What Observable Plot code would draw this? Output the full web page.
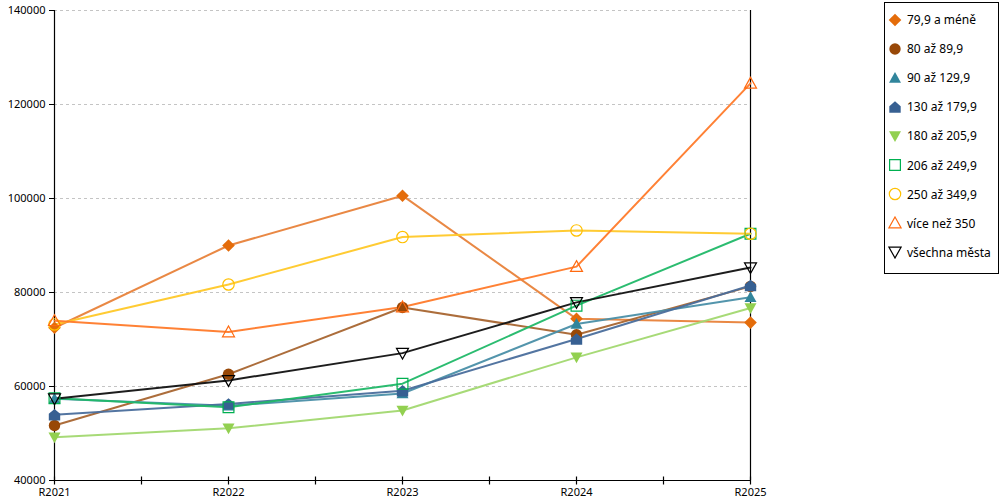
<!DOCTYPE html>
<html>
<head>
<meta charset="utf-8">
<script src="https://cdn.jsdelivr.net/npm/d3@7"></script>
<script src="https://cdn.jsdelivr.net/npm/@observablehq/plot@0.6"></script>
<style>
  body { margin: 0; background: #fff; font-family: "Noto Sans", sans-serif; }
  #wrap { position: relative; width: 1000px; height: 500px; }
  #legend { position: absolute; left: 884px; top: 2px; width: 110px; height: 268px;
    border: 1px solid #000; box-sizing: content-box; padding-top: 2px; padding-left: 3px; }
  .item { height: 29.1px; display: flex; align-items: center; font-size: 12px; color: #000; white-space: nowrap; }
  .item svg { margin-right: 5px; flex: none; }
</style>
</head>
<body>
<div id="wrap">
  <div id="chart"></div>
  <div id="legend"></div>
</div>
<script>
const categories = ["R2021", "R2022", "R2023", "R2024", "R2025"];
const seriesNames = ["79,9 a méně", "80 až 89,9", "90 až 129,9", "130 až 179,9", "180 až 205,9", "206 až 249,9", "250 až 349,9", "více než 350", "všechna města"];
const s79 = [72500, 90000, 100600, 74400, 73600];
const s80 = [51700, 62600, 76800, 71000, 81300];
const s90 = [57400, 55900, 58500, 73300, 79000];
const s130 = [54000, 56300, 59100, 70100, 81500];
const s180 = [49200, 51100, 54900, 66200, 76700];
const s206 = [57500, 55600, 60600, 77200, 92500];
const s250 = [73200, 81700, 91800, 93200, 92500];
const s350 = [74000, 71600, 76900, 85500, 124500];
const sAll = [57400, 61300, 67100, 77900, 85300];
const seriesValues = [s79, s80, s90, s130, s180, s206, s250, s350, sAll];
const yTicks = [40000, 60000, 80000, 100000, 120000, 140000];

const colors = ["#E46C0A", "#984807", "#31859C", "#376092", "#92D050", "#00B050", "#FFC000", "#FF6A10", "#000000"];
const lineColors = ["#E8823A", "#A86530", "#4A8FA8", "#4A6E9C", "#A2D870", "#20B868", "#FFC828", "#FF7A2A", "#111111"];
const filled = [true, true, true, true, true, false, false, false, false];

// custom symbols (size = r^2 * pi)
const R = s => Math.sqrt(s / Math.PI);
const symDiamond = {draw(c, s){ const r = R(s)*1.05; c.moveTo(0,-r); c.lineTo(r,0); c.lineTo(0,r); c.lineTo(-r,0); c.closePath(); }};
const symCircle = {draw(c, s){ const r = R(s)*0.95; c.moveTo(r,0); c.arc(0,0,r,0,2*Math.PI); c.closePath(); }};
const symTriUp = {draw(c, s){ const r = R(s); c.moveTo(0,-r); c.lineTo(r,r*0.8); c.lineTo(-r,r*0.8); c.closePath(); }};
const symHouse = {draw(c, s){ const r = R(s)*0.95; c.moveTo(0,-r); c.lineTo(r,-r*0.15); c.lineTo(r,r); c.lineTo(-r,r); c.lineTo(-r,-r*0.15); c.closePath(); }};
const symTriDown = {draw(c, s){ const r = R(s); c.moveTo(-r,-r*0.8); c.lineTo(r,-r*0.8); c.lineTo(0,r); c.closePath(); }};
const symSquare = {draw(c, s){ const r = R(s)*0.9; c.rect(-r,-r,2*r,2*r); }};
const symbols = [symDiamond, symCircle, symTriUp, symHouse, symTriDown, symSquare, symCircle, symTriUp, symTriDown];
const symTick = {draw(c, s){ c.moveTo(0,-4); c.lineTo(0,4); }};

const year = c => +c.slice(1);
const halfTicks = d3.range(year(categories[0]), year(categories[categories.length-1]) + 0.01, 0.5);

const marks = [
  Plot.gridY(yTicks.slice(1), {stroke: "#c4c4c4", strokeOpacity: 1, strokeDasharray: "3,3"}),
  Plot.ruleX([year(categories[0]), year(categories[categories.length-1])], {stroke: "#000", strokeWidth: 1.2}),
  Plot.ruleY([yTicks[0]], {stroke: "#000", strokeWidth: 1.2}),
  Plot.dot(halfTicks, {x: d => d, y: () => yTicks[0], symbol: symTick, r: 4, stroke: "#000", fill: "none", strokeWidth: 1.2}),
  Plot.axisY({ticks: yTicks, tickSize: 5, tickPadding: 4, tickFormat: d => String(d), fontSize: 11, label: null}),
  Plot.axisX({ticks: categories.map(year), tickSize: 0, tickPadding: 8, tickFormat: d => "R" + d, fontSize: 11, label: null})
];

seriesValues.forEach((vals, i) => {
  const data = categories.map((c, j) => ({x: year(c), y: vals[j]}));
  marks.push(Plot.line(data, {x: "x", y: "y", stroke: lineColors[i], strokeWidth: 2, strokeOpacity: 0.95}));
});
seriesValues.forEach((vals, i) => {
  const data = categories.map((c, j) => ({x: year(c), y: vals[j]}));
  marks.push(Plot.dot(data, {x: "x", y: "y", symbol: symbols[i], r: 6,
    fill: filled[i] ? colors[i] : "none", stroke: filled[i] ? "none" : colors[i], strokeWidth: 1.2}));
});

const chart = Plot.plot({
  width: 1000, height: 500,
  marginLeft: 54, marginRight: 250, marginTop: 10, marginBottom: 20,
  style: {fontFamily: "Noto Sans", fontSize: "11px", color: "#000", background: "#fff"},
  x: {type: "linear", domain: [year(categories[0]), year(categories[categories.length-1])], axis: null},
  y: {type: "linear", domain: [yTicks[0], yTicks[yTicks.length-1]], axis: null},
  marks
});
document.getElementById("chart").appendChild(chart);

// legend
const legend = document.getElementById("legend");
seriesNames.forEach((name, i) => {
  const p = d3.path();
  symbols[i].draw(p, 36 * Math.PI);
  const item = document.createElement("div");
  item.className = "item";
  const fill = filled[i] ? colors[i] : "none";
  const stroke = filled[i] ? "none" : colors[i];
  item.innerHTML = `<svg width="14" height="14" viewBox="-7 -7 14 14"><path d="${p.toString()}" fill="${fill}" stroke="${stroke}" stroke-width="1.2"/></svg><span>${name}</span>`;
  legend.appendChild(item);
});
</script>
</body>
</html>
